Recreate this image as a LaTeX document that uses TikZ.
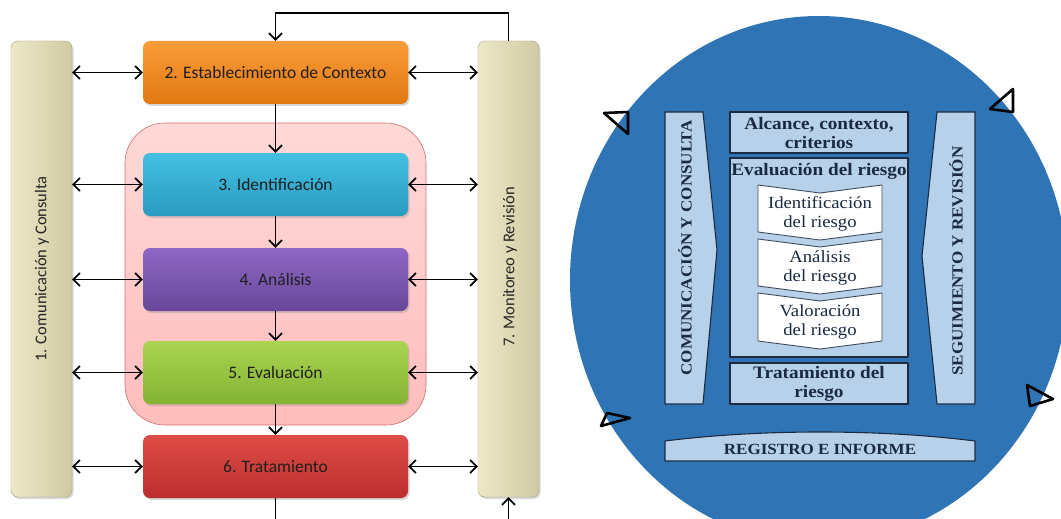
\documentclass[tikz,border=0pt]{standalone}
\usepackage{fontspec}
\setmainfont{Carlito}
\newfontfamily\capfont[FakeStretch=1.1]{Liberation Serif}
\usetikzlibrary{arrows.meta,shadows}

% palette of the process chart
\definecolor{bartan}{HTML}{D0C9A2}
\definecolor{barlight}{HTML}{EDE8C8}
\definecolor{grouppink}{HTML}{FFBDBD}
\definecolor{grouptop}{HTML}{FFD8D8}
\definecolor{groupedge}{HTML}{D07070}
\definecolor{orgtop}{HTML}{F99D3A}
\definecolor{orgbot}{HTML}{E27811}
\definecolor{cyantop}{HTML}{42C0E2}
\definecolor{cyanbot}{HTML}{2A9AC0}
\definecolor{purtop}{HTML}{8E68C4}
\definecolor{purbot}{HTML}{68479A}
\definecolor{grntop}{HTML}{AAD452}
\definecolor{grnbot}{HTML}{84B333}
\definecolor{redtop}{HTML}{DE4C46}
\definecolor{redbot}{HTML}{BC2E2E}
% palette of the circular scheme
\definecolor{circblue}{HTML}{2F74B5}
\definecolor{panelblue}{HTML}{B8D1EA}
\definecolor{edgeblue}{HTML}{1C2B40}
\definecolor{textnavy}{HTML}{1A2A42}

\begin{document}
\begin{tikzpicture}[x=1pt,y=-1pt,
  >={Straight Barb[length=6.5pt,width=13pt]},
  conn/.style={line width=1.7pt,black},
  stage/.style={rounded corners=7pt,minimum width=265pt,minimum height=63pt,
    inner sep=0pt,text=black!88,font=\fontsize{17.5}{20}\selectfont,
    drop shadow={opacity=0.3,shadow xshift=1.5pt,shadow yshift=-2pt}},
  sidebar/.style={rounded corners=7pt,minimum width=61pt,minimum height=456pt,
    inner sep=0pt,left color=barlight,right color=bartan,
    draw=bartan!80!black,line width=0.4pt,
    drop shadow={opacity=0.3,shadow xshift=1.5pt,shadow yshift=-2pt}},
  sidetext/.style={rotate=90,text=black!85,font=\fontsize{16.5}{19}\selectfont},
  panel/.style={fill=panelblue,draw=edgeblue,line width=1.1pt,line join=round},
  ptext/.style={text=textnavy,align=center,
    font=\capfont\bfseries\fontsize{17.5}{19.5}\selectfont},
  captext/.style={text=textnavy,rotate=90,
    font=\capfont\bfseries\fontsize{15.5}{18}\selectfont},
  chev/.style={fill=white,draw=edgeblue!85,line width=0.9pt,line join=round},
  ctext/.style={text=textnavy,align=center,
    font=\capfont\fontsize{17}{19.5}\selectfont},
  marker/.style={draw=black,line width=2.6pt,line join=round}]

\clip (0,0) rectangle (1061,519);
\fill[white] (0,0) rectangle (1061,519);

% ---------------- process chart ----------------
\node[sidebar] (comm) at (41.5,269) {};
\node[sidetext] (commtxt) at (42,269) {1. Comunicación y Consulta};
\node[sidebar] (mon) at (508.5,269) {};
\node[sidetext] (montxt) at (510,267) {7. Monitoreo y Revisión};

% risk assessment group
\node[minimum width=301pt,minimum height=302pt,inner sep=0pt,rounded corners=40pt,
  top color=grouptop,bottom color=grouppink,draw=groupedge,line width=0.6pt]
  (group) at (275.5,274) {};

\node[stage,top color=orgtop,bottom color=orgbot] (ctx) at (275.5,72.5) {2. Establecimiento de Contexto};
\node[stage,top color=cyantop,bottom color=cyanbot] (ident) at (275.5,184.5) {3. Identificación};
\node[stage,top color=purtop,bottom color=purbot] (anal) at (275.5,279.5) {4. Análisis};
\node[stage,top color=grntop,bottom color=grnbot] (eval) at (275.5,372.5) {5. Evaluación};
\node[stage,top color=redtop,bottom color=redbot] (trat) at (275.5,466.5) {6. Tratamiento};

% flow between the stages
\draw[conn,->] (ctx.south) -- (ident.north);
\draw[conn,->] (ident.south) -- (anal.north);
\draw[conn,->] (anal.south) -- (eval.north);
\draw[conn,->] (eval.south) -- (trat.north);
\coordinate (looptop) at (275.5,13);
\draw[conn,->] (mon.north) |- (looptop) -- (ctx.north);
\coordinate (outflow) at (275.5,519);
\draw[conn] (trat.south) -- (outflow);
\coordinate (inflow) at (508.5,519);
\draw[conn,->] (inflow) -- (mon.south);

% exchanges with the side processes
\foreach \s in {ctx,ident,anal,eval,trat}{
  \draw[conn,<->] (comm.east |- \s.west) -- (\s.west);
  \draw[conn,<->] (\s.east) -- (mon.west |- \s.east);
}

% ---------------- circular scheme ----------------
\fill[circblue] (819,280) ellipse [x radius=249,y radius=264];

% cycle markers on the rim
\draw[marker] (604,113) -- (628,112) -- (628,134) -- cycle;
\draw[marker] (990,109) -- (1013,89) -- (1013,112) -- cycle;
\draw[marker] (607,413) -- (630,418) -- (601,426) -- cycle;
\draw[marker] (1027,385) -- (1053,399) -- (1030,406) -- cycle;

% side arrows
\draw[panel] (665,112) -- (703,112) -- (717,250) -- (703,404) -- (665,404) -- cycle;
\node[captext] (comtxt) at (685,248) {COMUNICACIÓN Y CONSULTA};
\draw[panel] (937,112) -- (975,112) -- (975,404) -- (937,404) -- (922,256) -- cycle;
\node[captext] (segtxt) at (956,261) {SEGUIMIENTO Y REVISIÓN};

% central column
\draw[panel] (730,112) rectangle (908,153);
\node[ptext] (alc) at (819,133) {Alcance, contexto,\\criterios};
\draw[panel] (730,158) rectangle (908,357);
\node[ptext] (evr) at (819,171) {Evaluación del riesgo};

\draw[chev] (758,185) -- (820,193) -- (882,185) -- (882,232) -- (820,240) -- (758,232) -- cycle;
\node[ctext] (idr) at (820,214) {Identificación\\del riesgo};
\draw[chev] (758,239) -- (820,247) -- (882,239) -- (882,286) -- (820,294) -- (758,286) -- cycle;
\node[ctext] (anr) at (820,268) {Análisis\\del riesgo};
\draw[chev] (758,293) -- (820,301) -- (882,293) -- (882,341) -- (820,349) -- (758,341) -- cycle;
\node[ctext] (var) at (820,322) {Valoración\\del riesgo};

\draw[panel] (730,363) rectangle (908,404);
\node[ptext] (trr) at (819,384) {Tratamiento del\\riesgo};

% bottom banner
\draw[panel] (665,441) .. controls (760,429) and (880,429) .. (975,441) -- (975,461) -- (665,461) -- cycle;
\node[ptext,font=\capfont\bfseries\fontsize{15.5}{18}\selectfont] (reg) at (820,449) {REGISTRO E INFORME};
\end{tikzpicture}
\end{document}
